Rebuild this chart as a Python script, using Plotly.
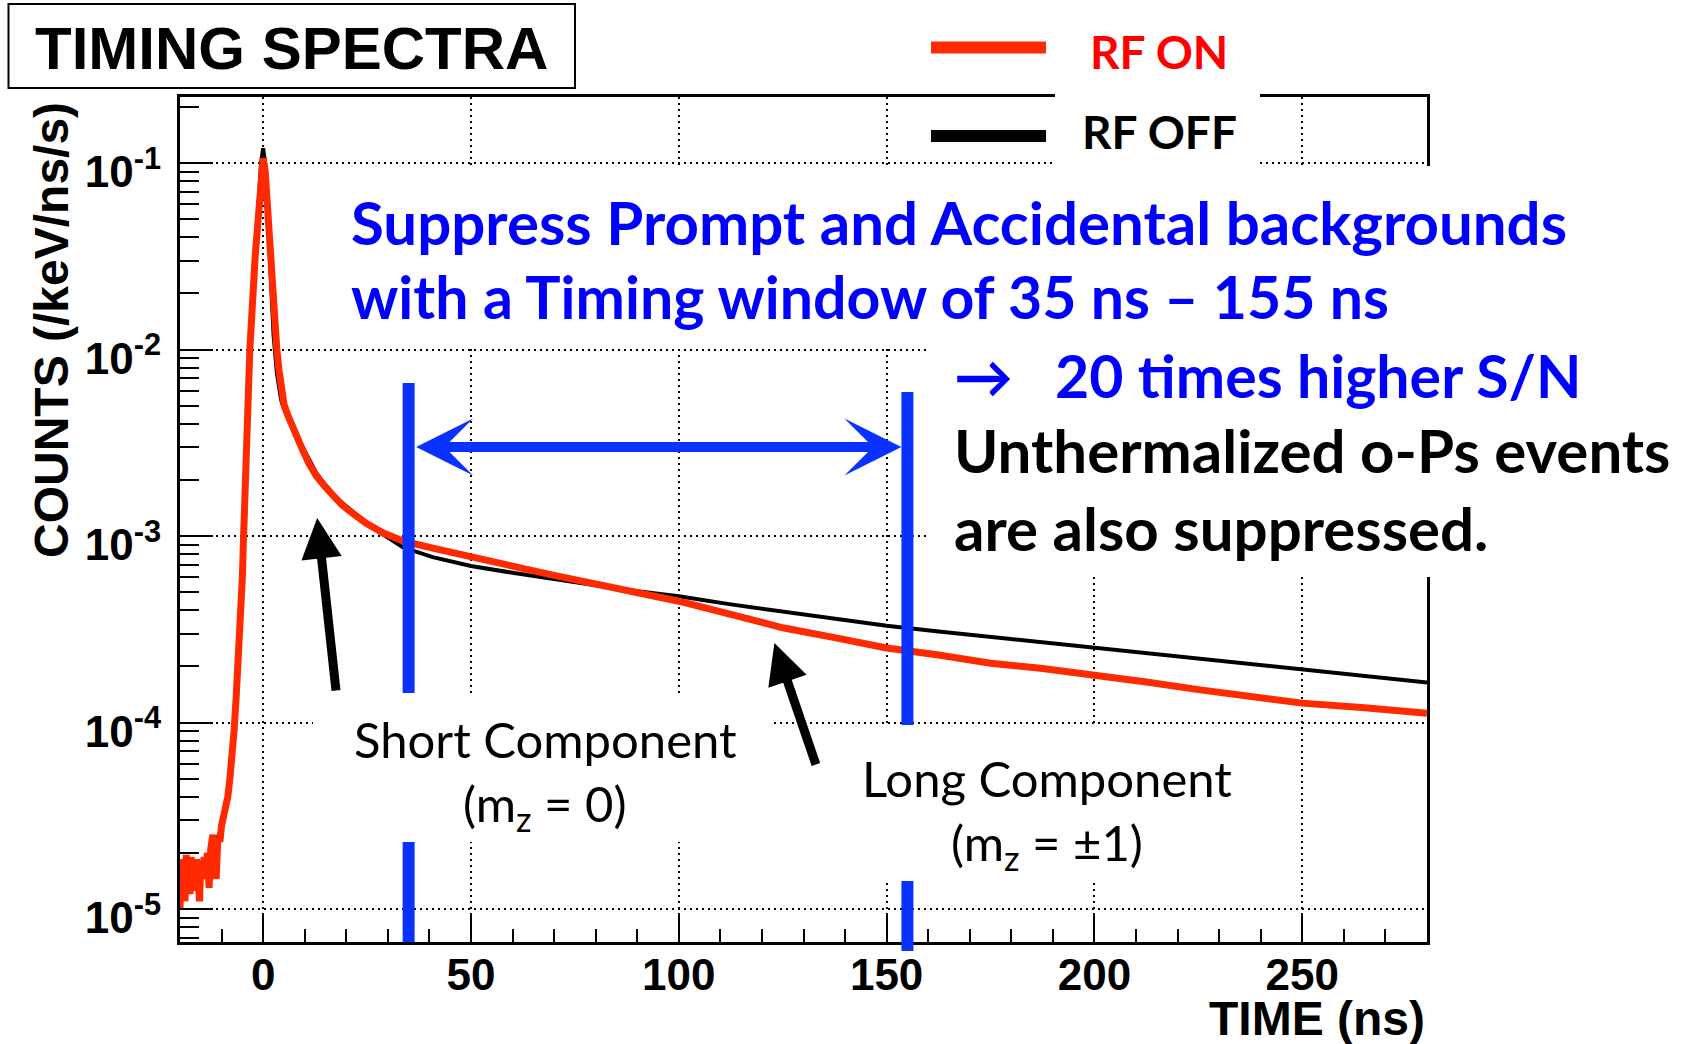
import plotly.graph_objects as go

# ---------------- data ----------------
time_rf_on = [-20.0, -19.7, -19.4, -19.1, -18.8, -18.5, -18.2, -17.9, -17.6, -17.3,
              -17.0, -16.7, -16.4, -16.0, -15.6, -15.3, -15.0, -14.6, -14.2, -13.8,
              -13.4, -13.0, -12.6, -12.1, -11.7, -11.3, -10.9, -10.4, -10.0, -9.5,
              -9.0, -8.5, -8.0, -7.5, -7.0, -6.5, -6.0, -5.5, -5.0, -4.7,
              -3.2, -1.9, -0.5, 0.0, 0.5, 1.6, 2.5, 3.3, 3.8, 4.3,
              5.0, 6.0, 7.1, 8.2, 9.5, 11.0, 12.8, 14.8, 16.8, 18.8,
              20.8, 24.8, 28.8, 33.6, 40.8,
              50, 60, 70, 80, 90, 100, 112.5, 125, 137.5, 150,
              162.5, 175, 187.5, 200, 212.5, 225, 237.5, 250, 265, 280]
counts_rf_on = [1.0e-5, 1.85e-5, 1.2e-5, 1.7e-5, 1.1e-5, 1.95e-5, 1.3e-5, 1.8e-5, 1.2e-5, 1.9e-5,
                1.4e-5, 1.75e-5, 1.25e-5, 1.85e-5, 1.4e-5, 1.1e-5, 1.8e-5, 1.45e-5, 1.9e-5, 1.5e-5,
                2.0e-5, 1.3e-5, 2.1e-5, 2.5e-5, 1.7e-5, 1.45e-5, 2.4e-5, 2.3e-5, 2.8e-5, 3.1e-5,
                3.4e-5, 4.0e-5, 5.0e-5, 6.3e-5, 9.0e-5, 1.35e-4, 2.1e-4, 3.5e-4, 6.0e-4, 1.0e-3,
                1.0e-2, 3.2e-2, 9.0e-2, 1.06e-1, 9.0e-2, 3.3e-2, 1.5e-2, 1.0e-2, 7.8e-3, 6.2e-3,
                5.1e-3, 4.4e-3, 3.8e-3, 3.3e-3, 2.9e-3, 2.45e-3, 2.1e-3, 1.85e-3, 1.64e-3, 1.48e-3,
                1.36e-3, 1.17e-3, 1.04e-3, 9.4e-4, 8.6e-4,
                7.8e-4, 6.9e-4, 6.15e-4, 5.5e-4, 4.9e-4, 4.47e-4, 3.8e-4, 3.22e-4, 2.85e-4, 2.51e-4,
                2.3e-4, 2.08e-4, 1.95e-4, 1.81e-4, 1.65e-4, 1.5e-4, 1.38e-4, 1.27e-4, 1.2e-4, 1.12e-4]

time_rf_off = [-20.0, -15.0, -10.0, -9.0, -8.0, -7.0, -6.0, -5.0, -4.7, -3.2,
               -1.9, -0.5, 0.0, 0.5, 1.6, 2.5, 3.3, 3.8, 4.3, 5.0,
               6.0, 7.1, 8.2, 9.5, 11.0, 12.8, 14.8, 16.8, 18.8, 20.8,
               24.8, 28.8, 33.6, 40.8, 50,
               60, 70, 80, 90, 100, 112.5, 125, 137.5, 150, 162.5,
               175, 187.5, 200, 212.5, 225, 237.5, 250, 265, 280]
counts_rf_off = [1.45e-5, 1.5e-5, 2.7e-5, 3.5e-5, 5.0e-5, 9.0e-5, 2.1e-4, 6.0e-4, 1.0e-3, 1.0e-2,
                 3.3e-2, 1.0e-1, 1.2e-1, 1.0e-1, 3.2e-2, 1.2e-2, 7.5e-3, 6.2e-3, 5.4e-3, 4.8e-3,
                 4.35e-3, 3.9e-3, 3.4e-3, 3.0e-3, 2.55e-3, 2.17e-3, 1.9e-3, 1.68e-3, 1.52e-3, 1.39e-3,
                 1.18e-3, 1.02e-3, 8.7e-4, 7.7e-4, 6.9e-4,
                 6.35e-4, 5.85e-4, 5.45e-4, 5.05e-4, 4.75e-4, 4.3e-4, 3.95e-4, 3.6e-4, 3.3e-4, 3.08e-4,
                 2.88e-4, 2.68e-4, 2.51e-4, 2.34e-4, 2.19e-4, 2.05e-4, 1.92e-4, 1.77e-4, 1.64e-4]

timing_window_ns = [35, 155]

x_range = [-20, 280]
y_range_log = [-5.177, -0.646]
x_major_ticks = [0, 50, 100, 150, 200, 250]
x_minor_ticks = [v for v in range(-10, 281, 10) if v % 50 != 0]
y_major_vals = [1e-5, 1e-4, 1e-3, 1e-2, 1e-1]
y_tick_text = ["10<sup>-5</sup>", "10<sup>-4</sup>", "10<sup>-3</sup>", "10<sup>-2</sup>", "10<sup>-1</sup>"]
y_minor_vals = [k * 10.0 ** e for e in range(-6, 0) for k in range(2, 10)
                if 10 ** y_range_log[0] <= k * 10.0 ** e <= 10 ** y_range_log[1]]

# ---------------- geometry helpers (pixel -> paper) ----------------
W, H = 1682, 1044
L, R, T, B = 180, 255, 97, 102
PW = W - L - R
PH = H - T - B


def px(x):
    return (x - L) / PW


def py(y):
    return 1 - (y - T) / PH


def ylog(ypix):
    return y_range_log[1] - (ypix - T) / PH * (y_range_log[1] - y_range_log[0])


RED = "#ff2a00"
BLUE_LINE = "#0a32ff"
BLUE_TEXT = "#0000ff"
TXT_FONT = "Lato"
ROOT_FONT = "Liberation Sans"

fig = go.Figure()
fig.add_trace(go.Scatter(x=time_rf_off, y=counts_rf_off, mode="lines",
                         line=dict(color="black", width=4), name="RF OFF"))
fig.add_trace(go.Scatter(x=time_rf_on, y=counts_rf_on, mode="lines",
                         line=dict(color=RED, width=7), name="RF ON"))

shapes = []
# blue timing-window lines
shapes.append(dict(type="line", xref="x", yref="paper", x0=timing_window_ns[0], x1=timing_window_ns[0],
                   y0=py(942), y1=py(383), line=dict(color=BLUE_LINE, width=12), layer="above"))
shapes.append(dict(type="line", xref="x", yref="paper", x0=timing_window_ns[1], x1=timing_window_ns[1],
                   y0=py(951), y1=py(392), line=dict(color=BLUE_LINE, width=12), layer="above"))
# white text boxes of the slide overlay
for (x0, x1, y0, y1) in [(1055, 1260, 0, 167), (335, 1682, 166, 346), (930, 1682, 346, 577),
                         (313, 772, 693, 842), (850, 1250, 725, 881)]:
    shapes.append(dict(type="rect", xref="paper", yref="paper", x0=px(x0), x1=px(x1),
                       y0=py(y1), y1=py(y0), fillcolor="white", line=dict(width=0), layer="above"))
# title box
shapes.append(dict(type="rect", xref="paper", yref="paper", x0=px(8.5), x1=px(575),
                   y0=py(88), y1=py(4), fillcolor="white", line=dict(color="black", width=2), layer="above"))
# legend samples
shapes.append(dict(type="line", xref="paper", yref="paper", x0=px(931), x1=px(1046),
                   y0=py(47.5), y1=py(47.5), line=dict(color=RED, width=12), layer="above"))
shapes.append(dict(type="line", xref="paper", yref="paper", x0=px(931), x1=px(1046),
                   y0=py(136), y1=py(136), line=dict(color="black", width=12), layer="above"))

ann = []


def text(t, x, y, size, color="black", bold=True, family=TXT_FONT, xanchor="left", angle=0):
    ann.append(dict(text=t, x=px(x), y=py(y), xref="paper", yref="paper", showarrow=False,
                    xanchor=xanchor, yanchor="middle", textangle=angle,
                    font=dict(family=family, size=size, color=color, weight="bold" if bold else "normal")))


text("TIMING SPECTRA", 291, 48, 60, family=ROOT_FONT, xanchor="center")
text("RF ON", 1088, 51.5, 46, color="#ff0000")
text("RF OFF", 1080, 131.7, 46)
text("Suppress Prompt and Accidental backgrounds", 349, 222.5, 60, color=BLUE_TEXT)
text("with a Timing window of 35 ns \u2013 155 ns", 349, 296.7, 59, color=BLUE_TEXT)
text("\u2192", 952, 375, 59, color=BLUE_TEXT)
text("20 times higher S/N", 1053, 375, 59, color=BLUE_TEXT)
text("Unthermalized o-Ps events", 952, 450, 60)
text("are also suppressed.", 952, 528, 60)
text("Short Component", 545, 739, 49, bold=False, xanchor="center")
text("(m<sub>z</sub> = 0)", 545, 806, 49, bold=False, xanchor="center")
text("Long Component", 1047, 778, 49, bold=False, xanchor="center")
text("(m<sub>z</sub> = \u00b11)", 1047, 845, 49, bold=False, xanchor="center")
text("COUNTS (/keV/ns/s)", 52, 330, 48, family=ROOT_FONT, xanchor="center", angle=-90)
text("TIME (ns)", 1427, 1019, 48, family=ROOT_FONT, xanchor="right")

# double-headed blue arrow of the timing window
dx = 6 / (PW / (x_range[1] - x_range[0]))
ann.append(dict(x=timing_window_ns[1] - dx, y=ylog(447), xref="x", yref="y",
                ax=timing_window_ns[0] + dx, ay=0, axref="x", ayref="pixel",
                text="", showarrow=True, arrowside="end+start", arrowhead=3, startarrowhead=3,
                arrowwidth=10, arrowsize=0.95, startarrowsize=0.95, arrowcolor=BLUE_LINE))
# black pointer arrows
ann.append(dict(x=13.0, y=ylog(518), xref="x", yref="y", ax=19, ay=174,
                text="", showarrow=True, arrowhead=2, arrowwidth=9, arrowsize=0.9, arrowcolor="black"))
ann.append(dict(x=123.0, y=ylog(643), xref="x", yref="y", ax=42, ay=123,
                text="", showarrow=True, arrowhead=2, arrowwidth=9, arrowsize=0.9, arrowcolor="black"))

fig.update_layout(
    width=W, height=H, margin=dict(l=L, r=R, t=T, b=B),
    paper_bgcolor="white", plot_bgcolor="white", showlegend=False,
    shapes=shapes, annotations=ann,
    xaxis=dict(range=x_range, tickmode="array", tickvals=x_major_ticks,
               ticks="inside", ticklen=28, tickwidth=2, tickcolor="black",
               showgrid=True, gridcolor="black", gridwidth=2, griddash="2px,4px",
               showline=True, linecolor="black", linewidth=3, mirror=True, zeroline=False,
               tickfont=dict(family=ROOT_FONT, size=44, color="black", weight="bold"),
               ticklabelstandoff=-8,
               minor=dict(tickmode="array", tickvals=x_minor_ticks, ticks="inside", ticklen=13,
                          tickwidth=2, tickcolor="black", showgrid=False)),
    yaxis=dict(type="log", range=y_range_log, tickmode="array", tickvals=y_major_vals,
               ticktext=y_tick_text,
               ticks="inside", ticklen=33, tickwidth=2, tickcolor="black",
               showgrid=True, gridcolor="black", gridwidth=2, griddash="2px,4px",
               showline=True, linecolor="black", linewidth=3, mirror=True, zeroline=False,
               tickfont=dict(family=ROOT_FONT, size=44, color="black", weight="bold"),
               ticklabelstandoff=7, ticklabelshift=9,
               minor=dict(tickmode="array", tickvals=y_minor_vals, ticks="inside", ticklen=19,
                          tickwidth=2, tickcolor="black", showgrid=False)),
)

fig.write_html("out.html")
